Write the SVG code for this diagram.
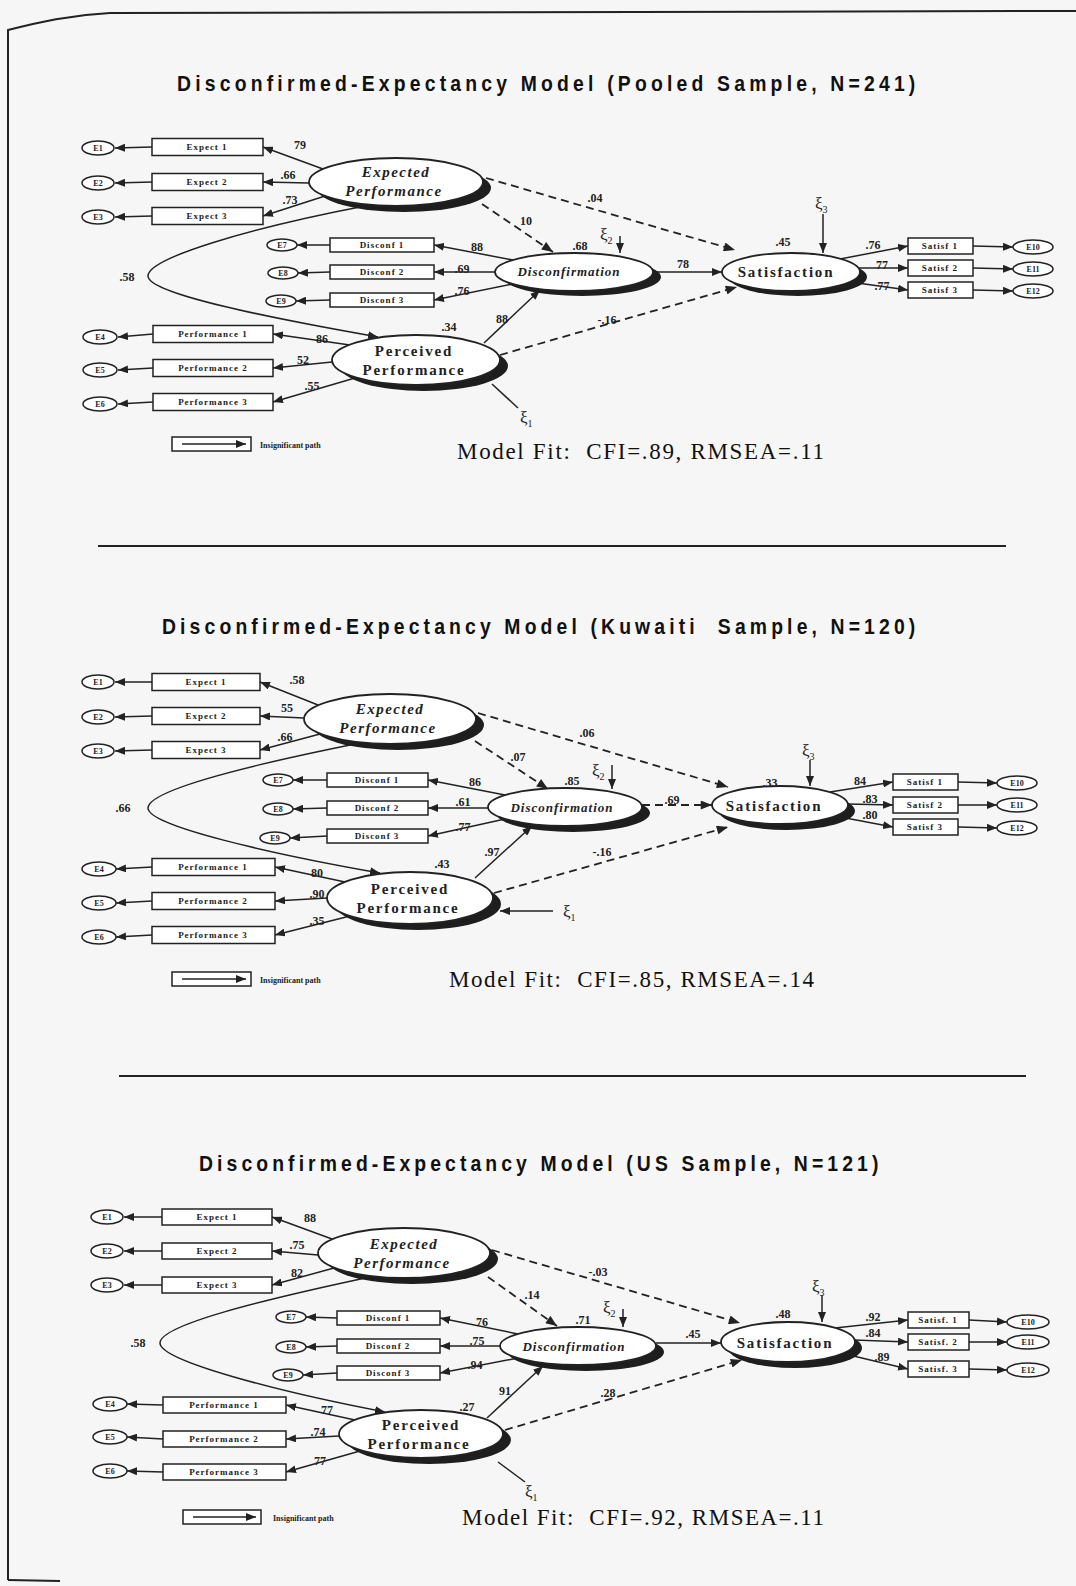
<svg xmlns="http://www.w3.org/2000/svg" width="1076" height="1586" viewBox="0 0 1076 1586">
<defs>
<marker id="ah" viewBox="0 0 10 8" refX="10" refY="4" markerWidth="10" markerHeight="8" markerUnits="userSpaceOnUse" orient="auto"><path d="M0,0 L10,4 L0,8 z" fill="#222"/></marker>
<marker id="ahs" viewBox="0 0 10 8" refX="10" refY="4" markerWidth="12" markerHeight="9" markerUnits="userSpaceOnUse" orient="auto"><path d="M0,0 L10,4 L0,8 z" fill="#222"/></marker>
</defs>
<style>
.ln{stroke:#222;stroke-width:1.5;fill:none;marker-end:url(#ah)}
.ds{stroke:#222;stroke-width:1.8;fill:none;stroke-dasharray:8 5;marker-end:url(#ahs)}
.pl{stroke:#222;stroke-width:1.5;fill:none}
.bx{fill:#fff;stroke:#222;stroke-width:1.5}
.er{fill:#fff;stroke:#222;stroke-width:1.5}
.lat{fill:#fff;stroke:#222;stroke-width:1.8}
.sh{fill:#1e1e1e}
.bt{font-family:"Liberation Serif",serif;font-weight:bold;font-size:9px;letter-spacing:1px;text-anchor:middle;fill:#222}
.et{font-family:"Liberation Serif",serif;font-weight:bold;font-size:8px;text-anchor:middle;fill:#222}
.li{font-family:"Liberation Serif",serif;font-weight:bold;font-style:italic;font-size:15px;letter-spacing:1.5px;text-anchor:middle;fill:#222}
.lb{font-family:"Liberation Serif",serif;font-weight:bold;font-size:15px;letter-spacing:1.8px;text-anchor:middle;fill:#222}
.ld{font-family:"Liberation Serif",serif;font-weight:bold;font-style:italic;font-size:13px;letter-spacing:1px;text-anchor:middle;fill:#222}
.cf{font-family:"Liberation Serif",serif;font-weight:bold;font-size:12px;text-anchor:middle;fill:#222}
.xi{font-family:"Liberation Serif",serif;font-size:17px;fill:#222}
.ti{font-family:"Liberation Sans",Arial,sans-serif;font-weight:bold;font-size:22px;fill:#111}
.mf{font-family:"Liberation Serif",serif;font-size:23px;fill:#111}
.lg{font-family:"Liberation Serif",serif;font-weight:bold;font-size:8px;fill:#222}
</style>
<rect x="0" y="0" width="1076" height="1586" fill="#f6f6f6"/>
<g id="frame" fill="none" stroke="#222" stroke-width="2">
<path d="M8,1580 L8,30 C40,22 70,15 110,13 L1076,11"/>
<path d="M8,1580 L60,1581"/>
<line x1="98" y1="546" x2="1006" y2="546"/>
<line x1="119" y1="1076" x2="1026" y2="1076"/>
</g>

<!-- ================= MODEL 1 ================= -->
<text class="ti" transform="translate(177,91) scale(0.88,1)" x="0" y="0" textLength="839" lengthAdjust="spacing">Disconfirmed-Expectancy Model (Pooled Sample, N=241)</text>
<g id="m1-connectors">
<line class="ln" x1="152" y1="147" x2="115" y2="148"/>
<line class="ln" x1="152" y1="182" x2="115" y2="183"/>
<line class="ln" x1="152" y1="216" x2="115" y2="217"/>
<line class="ln" x1="323" y1="169" x2="263" y2="147"/>
<line class="ln" x1="309" y1="183" x2="263" y2="182"/>
<line class="ln" x1="325" y1="196" x2="263" y2="216"/>
<path class="ln" d="M365,206 C250,228 148,258 148,276 C148,294 270,318 378,337"/>
<line class="ln" x1="330" y1="245" x2="297" y2="245"/>
<line class="ln" x1="330" y1="272" x2="298" y2="273"/>
<line class="ln" x1="330" y1="300" x2="296" y2="301"/>
<line class="ln" x1="513" y1="260" x2="434" y2="245"/>
<line class="ln" x1="495" y1="272" x2="434" y2="272"/>
<line class="ln" x1="513" y1="284" x2="434" y2="300"/>
<line class="ln" x1="153" y1="334" x2="118" y2="337"/>
<line class="ln" x1="153" y1="368" x2="118" y2="370"/>
<line class="ln" x1="153" y1="402" x2="118" y2="404"/>
<line class="ln" x1="350" y1="345" x2="273" y2="334"/>
<line class="ln" x1="332" y1="362" x2="273" y2="368"/>
<line class="ln" x1="355" y1="378" x2="273" y2="402"/>
<line class="ln" x1="484" y1="343" x2="540" y2="290"/>
<line class="ds" x1="500" y1="355" x2="737" y2="287"/>
<line class="ds" x1="482" y1="204" x2="553" y2="252"/>
<line class="ds" x1="486" y1="178" x2="735" y2="250"/>
<line class="ln" x1="653" y1="272" x2="722" y2="272"/>
<line class="ln" x1="620" y1="236" x2="620" y2="253"/>
<line class="ln" x1="823" y1="214" x2="823" y2="253"/>
<line class="ln" x1="840" y1="259" x2="908" y2="246"/>
<line class="ln" x1="858" y1="268" x2="908" y2="268"/>
<line class="ln" x1="850" y1="282" x2="908" y2="290"/>
<line class="ln" x1="973" y1="246" x2="1013" y2="247"/>
<line class="ln" x1="973" y1="268" x2="1013" y2="269"/>
<line class="ln" x1="973" y1="290" x2="1013" y2="291"/>
<line class="pl" x1="492" y1="384" x2="518" y2="408"/>
</g>
<g id="m1-E1"><ellipse class="er" cx="98" cy="148" rx="16" ry="7"/><text class="et" x="98" y="151">E1</text></g>
<g id="m1-E2"><ellipse class="er" cx="98" cy="183" rx="16" ry="7"/><text class="et" x="98" y="186">E2</text></g>
<g id="m1-E3"><ellipse class="er" cx="98" cy="217" rx="16" ry="7"/><text class="et" x="98" y="220">E3</text></g>
<g id="m1-X1"><rect class="bx" x="152" y="138.5" width="111" height="17"/><text class="bt" x="207" y="150">Expect 1</text></g>
<g id="m1-X2"><rect class="bx" x="152" y="173.5" width="111" height="17"/><text class="bt" x="207" y="185">Expect 2</text></g>
<g id="m1-X3"><rect class="bx" x="152" y="207.5" width="111" height="17"/><text class="bt" x="207" y="219">Expect 3</text></g>
<g id="m1-E7"><ellipse class="er" cx="282" cy="245" rx="15" ry="6"/><text class="et" x="282" y="248">E7</text></g>
<g id="m1-E8"><ellipse class="er" cx="283" cy="273" rx="15" ry="6"/><text class="et" x="283" y="276">E8</text></g>
<g id="m1-E9"><ellipse class="er" cx="281" cy="301" rx="15" ry="6"/><text class="et" x="281" y="304">E9</text></g>
<g id="m1-D1"><rect class="bx" x="330" y="238" width="104" height="14"/><text class="bt" x="382" y="248">Disconf 1</text></g>
<g id="m1-D2"><rect class="bx" x="330" y="265" width="104" height="14"/><text class="bt" x="382" y="275">Disconf 2</text></g>
<g id="m1-D3"><rect class="bx" x="330" y="293" width="104" height="14"/><text class="bt" x="382" y="303">Disconf 3</text></g>
<g id="m1-E4"><ellipse class="er" cx="100" cy="337" rx="17" ry="7"/><text class="et" x="100" y="340">E4</text></g>
<g id="m1-E5"><ellipse class="er" cx="100" cy="370" rx="17" ry="7"/><text class="et" x="100" y="373">E5</text></g>
<g id="m1-E6"><ellipse class="er" cx="100" cy="404" rx="17" ry="7"/><text class="et" x="100" y="407">E6</text></g>
<g id="m1-P1"><rect class="bx" x="153" y="325.5" width="120" height="17"/><text class="bt" x="213" y="337">Performance 1</text></g>
<g id="m1-P2"><rect class="bx" x="153" y="359.5" width="120" height="17"/><text class="bt" x="213" y="371">Performance 2</text></g>
<g id="m1-P3"><rect class="bx" x="153" y="393.5" width="120" height="17"/><text class="bt" x="213" y="405">Performance 3</text></g>
<g id="m1-EP"><ellipse class="sh" cx="404" cy="188" rx="87" ry="24"/><ellipse class="lat" cx="396" cy="182" rx="87" ry="24"/><text class="li" x="396" y="177">Expected</text><text class="li" x="394" y="196">Performance</text></g>
<g id="m1-PP"><ellipse class="sh" cx="424" cy="366" rx="84" ry="25"/><ellipse class="lat" cx="416" cy="360" rx="84" ry="25"/><text class="lb" x="414" y="356">Perceived</text><text class="lb" x="414" y="375">Performance</text></g>
<g id="m1-DC"><ellipse class="sh" cx="582" cy="277" rx="79" ry="19"/><ellipse class="lat" cx="574" cy="272" rx="79" ry="19"/><text class="ld" x="569" y="276">Disconfirmation</text></g>
<g id="m1-SA"><ellipse class="sh" cx="798" cy="277" rx="69" ry="19"/><ellipse class="lat" cx="791" cy="272" rx="69" ry="19"/><text class="lb" x="786" y="277">Satisfaction</text></g>
<g id="m1-S1"><rect class="bx" x="908" y="238" width="65" height="16"/><text class="bt" x="940" y="249">Satisf 1</text></g>
<g id="m1-S2"><rect class="bx" x="908" y="260" width="65" height="16"/><text class="bt" x="940" y="271">Satisf 2</text></g>
<g id="m1-S3"><rect class="bx" x="908" y="282" width="65" height="16"/><text class="bt" x="940" y="293">Satisf 3</text></g>
<g id="m1-E10"><ellipse class="er" cx="1033" cy="247" rx="20" ry="7"/><text class="et" x="1033" y="250">E10</text></g>
<g id="m1-E11"><ellipse class="er" cx="1033" cy="269" rx="20" ry="7"/><text class="et" x="1033" y="272">E11</text></g>
<g id="m1-E12"><ellipse class="er" cx="1033" cy="291" rx="20" ry="7"/><text class="et" x="1033" y="294">E12</text></g>
<g id="m1-labels">
<text class="cf" x="300" y="149">79</text>
<text class="cf" x="288" y="179">.66</text>
<text class="cf" x="290" y="204">.73</text>
<text class="cf" x="127" y="281">.58</text>
<text class="cf" x="477" y="251">88</text>
<text class="cf" x="462" y="273">.69</text>
<text class="cf" x="462" y="295">.76</text>
<text class="cf" x="322" y="343">86</text>
<text class="cf" x="303" y="364">52</text>
<text class="cf" x="312" y="390">.55</text>
<text class="cf" x="449" y="331">.34</text>
<text class="cf" x="502" y="323">88</text>
<text class="cf" x="607" y="324">-.16</text>
<text class="cf" x="526" y="225">10</text>
<text class="cf" x="595" y="202">.04</text>
<text class="cf" x="580" y="250">.68</text>
<text class="cf" x="683" y="268">78</text>
<text class="cf" x="783" y="246">.45</text>
<text class="cf" x="873" y="249">.76</text>
<text class="cf" x="882" y="269">77</text>
<text class="cf" x="882" y="290">.77</text>
<text class="xi" x="600" y="240">ξ<tspan font-size="10" dy="4">2</tspan></text>
<text class="xi" x="815" y="209">ξ<tspan font-size="10" dy="4">3</tspan></text>
<text class="xi" x="520" y="423">ξ<tspan font-size="10" dy="4">1</tspan></text>
</g>
<g id="m1-legend"><rect x="172" y="437" width="79" height="14" fill="#fff" stroke="#222" stroke-width="1.5"/><line class="ln" x1="182" y1="444" x2="246" y2="444"/><text class="lg" x="260" y="448">Insignificant path</text></g>
<text class="mf" x="457" y="459" textLength="367" lengthAdjust="spacing">Model Fit:&#160; CFI=.89, RMSEA=.11</text>

<!-- ================= MODEL 2 ================= -->
<text class="ti" transform="translate(162,634) scale(0.88,1)" x="0" y="0" textLength="856" lengthAdjust="spacing">Disconfirmed-Expectancy Model (Kuwaiti&#160; Sample, N=120)</text>
<g id="m2-connectors">
<line class="ln" x1="152" y1="682" x2="115" y2="682"/>
<line class="ln" x1="152" y1="716" x2="115" y2="717"/>
<line class="ln" x1="152" y1="750" x2="115" y2="751"/>
<line class="ln" x1="318" y1="705" x2="260" y2="682"/>
<line class="ln" x1="304" y1="718" x2="260" y2="716"/>
<line class="ln" x1="320" y1="734" x2="260" y2="750"/>
<path class="ln" d="M360,743 C250,765 148,790 148,808 C148,826 272,854 380,873"/>
<line class="ln" x1="327" y1="780" x2="293" y2="780"/>
<line class="ln" x1="327" y1="808" x2="293" y2="809"/>
<line class="ln" x1="327" y1="836" x2="290" y2="838"/>
<line class="ln" x1="505" y1="795" x2="428" y2="780"/>
<line class="ln" x1="488" y1="808" x2="428" y2="808"/>
<line class="ln" x1="505" y1="819" x2="428" y2="836"/>
<line class="ln" x1="152" y1="867" x2="116" y2="869"/>
<line class="ln" x1="152" y1="901" x2="116" y2="903"/>
<line class="ln" x1="152" y1="935" x2="116" y2="937"/>
<line class="ln" x1="345" y1="882" x2="275" y2="867"/>
<line class="ln" x1="327" y1="898" x2="275" y2="901"/>
<line class="ln" x1="350" y1="916" x2="275" y2="935"/>
<line class="ln" x1="475" y1="878" x2="532" y2="826"/>
<line class="ds" x1="494" y1="893" x2="728" y2="827"/>
<line class="ds" x1="475" y1="741" x2="548" y2="789"/>
<line class="ds" x1="478" y1="713" x2="728" y2="787"/>
<line class="ds" x1="642" y1="805" x2="712" y2="805"/>
<line class="ln" x1="612" y1="765" x2="612" y2="789"/>
<line class="ln" x1="810" y1="760" x2="810" y2="786"/>
<line class="ln" x1="830" y1="792" x2="893" y2="782"/>
<line class="ln" x1="847" y1="804" x2="893" y2="805"/>
<line class="ln" x1="835" y1="816" x2="893" y2="827"/>
<line class="ln" x1="958" y1="782" x2="997" y2="783"/>
<line class="ln" x1="958" y1="805" x2="997" y2="805"/>
<line class="ln" x1="958" y1="827" x2="997" y2="828"/>
<line class="ln" x1="553" y1="911" x2="500" y2="911"/>
</g>
<g id="m2-E1"><ellipse class="er" cx="98" cy="682" rx="16" ry="7"/><text class="et" x="98" y="685">E1</text></g>
<g id="m2-E2"><ellipse class="er" cx="98" cy="717" rx="16" ry="7"/><text class="et" x="98" y="720">E2</text></g>
<g id="m2-E3"><ellipse class="er" cx="98" cy="751" rx="16" ry="7"/><text class="et" x="98" y="754">E3</text></g>
<g id="m2-X1"><rect class="bx" x="152" y="673.5" width="108" height="17"/><text class="bt" x="206" y="685">Expect 1</text></g>
<g id="m2-X2"><rect class="bx" x="152" y="707.5" width="108" height="17"/><text class="bt" x="206" y="719">Expect 2</text></g>
<g id="m2-X3"><rect class="bx" x="152" y="741.5" width="108" height="17"/><text class="bt" x="206" y="753">Expect 3</text></g>
<g id="m2-E7"><ellipse class="er" cx="278" cy="780" rx="15" ry="6"/><text class="et" x="278" y="783">E7</text></g>
<g id="m2-E8"><ellipse class="er" cx="278" cy="809" rx="15" ry="6"/><text class="et" x="278" y="812">E8</text></g>
<g id="m2-E9"><ellipse class="er" cx="275" cy="838" rx="15" ry="6"/><text class="et" x="275" y="841">E9</text></g>
<g id="m2-D1"><rect class="bx" x="327" y="773" width="101" height="14"/><text class="bt" x="377" y="783">Disconf 1</text></g>
<g id="m2-D2"><rect class="bx" x="327" y="801" width="101" height="14"/><text class="bt" x="377" y="811">Disconf 2</text></g>
<g id="m2-D3"><rect class="bx" x="327" y="829" width="101" height="14"/><text class="bt" x="377" y="839">Disconf 3</text></g>
<g id="m2-E4"><ellipse class="er" cx="99" cy="869" rx="17" ry="7"/><text class="et" x="99" y="872">E4</text></g>
<g id="m2-E5"><ellipse class="er" cx="99" cy="903" rx="17" ry="7"/><text class="et" x="99" y="906">E5</text></g>
<g id="m2-E6"><ellipse class="er" cx="99" cy="937" rx="17" ry="7"/><text class="et" x="99" y="940">E6</text></g>
<g id="m2-P1"><rect class="bx" x="152" y="858.5" width="123" height="17"/><text class="bt" x="213" y="870">Performance 1</text></g>
<g id="m2-P2"><rect class="bx" x="152" y="892.5" width="123" height="17"/><text class="bt" x="213" y="904">Performance 2</text></g>
<g id="m2-P3"><rect class="bx" x="152" y="926.5" width="123" height="17"/><text class="bt" x="213" y="938">Performance 3</text></g>
<g id="m2-EP"><ellipse class="sh" cx="398" cy="725" rx="86" ry="25"/><ellipse class="lat" cx="390" cy="719" rx="86" ry="25"/><text class="li" x="390" y="714">Expected</text><text class="li" x="388" y="733">Performance</text></g>
<g id="m2-PP"><ellipse class="sh" cx="418" cy="904" rx="83" ry="26"/><ellipse class="lat" cx="410" cy="898" rx="83" ry="26"/><text class="lb" x="410" y="894">Perceived</text><text class="lb" x="408" y="913">Performance</text></g>
<g id="m2-DC"><ellipse class="sh" cx="573" cy="813" rx="77" ry="19"/><ellipse class="lat" cx="565" cy="807" rx="77" ry="19"/><text class="ld" x="562" y="812">Disconfirmation</text></g>
<g id="m2-SA"><ellipse class="sh" cx="787" cy="811" rx="68" ry="19"/><ellipse class="lat" cx="780" cy="805" rx="68" ry="19"/><text class="lb" x="774" y="811">Satisfaction</text></g>
<g id="m2-S1"><rect class="bx" x="893" y="774" width="65" height="16"/><text class="bt" x="925" y="785">Satisf 1</text></g>
<g id="m2-S2"><rect class="bx" x="893" y="797" width="65" height="16"/><text class="bt" x="925" y="808">Satisf 2</text></g>
<g id="m2-S3"><rect class="bx" x="893" y="819" width="65" height="16"/><text class="bt" x="925" y="830">Satisf 3</text></g>
<g id="m2-E10"><ellipse class="er" cx="1017" cy="783" rx="20" ry="7"/><text class="et" x="1017" y="786">E10</text></g>
<g id="m2-E11"><ellipse class="er" cx="1017" cy="805" rx="20" ry="7"/><text class="et" x="1017" y="808">E11</text></g>
<g id="m2-E12"><ellipse class="er" cx="1017" cy="828" rx="20" ry="7"/><text class="et" x="1017" y="831">E12</text></g>
<g id="m2-labels">
<text class="cf" x="297" y="684">.58</text>
<text class="cf" x="287" y="712">55</text>
<text class="cf" x="285" y="741">.66</text>
<text class="cf" x="123" y="812">.66</text>
<text class="cf" x="475" y="786">86</text>
<text class="cf" x="463" y="806">.61</text>
<text class="cf" x="463" y="831">.77</text>
<text class="cf" x="317" y="877">80</text>
<text class="cf" x="317" y="898">.90</text>
<text class="cf" x="317" y="925">.35</text>
<text class="cf" x="442" y="868">.43</text>
<text class="cf" x="492" y="856">.97</text>
<text class="cf" x="602" y="856">-.16</text>
<text class="cf" x="518" y="761">.07</text>
<text class="cf" x="587" y="737">.06</text>
<text class="cf" x="572" y="785">.85</text>
<text class="cf" x="672" y="804">.69</text>
<text class="cf" x="770" y="787">.33</text>
<text class="cf" x="860" y="785">84</text>
<text class="cf" x="870" y="803">.83</text>
<text class="cf" x="870" y="819">.80</text>
<text class="xi" x="592" y="776">ξ<tspan font-size="10" dy="4">2</tspan></text>
<text class="xi" x="802" y="756">ξ<tspan font-size="10" dy="4">3</tspan></text>
<text class="xi" x="563" y="917">ξ<tspan font-size="10" dy="4">1</tspan></text>
</g>
<g id="m2-legend"><rect x="172" y="972" width="79" height="14" fill="#fff" stroke="#222" stroke-width="1.5"/><line class="ln" x1="182" y1="979" x2="246" y2="979"/><text class="lg" x="260" y="983">Insignificant path</text></g>
<text class="mf" x="449" y="987" textLength="365" lengthAdjust="spacing">Model Fit:&#160; CFI=.85, RMSEA=.14</text>

<!-- ================= MODEL 3 ================= -->
<text class="ti" transform="translate(199,1171) scale(0.88,1)" x="0" y="0" textLength="772" lengthAdjust="spacing">Disconfirmed-Expectancy Model (US Sample, N=121)</text>
<g id="m3-connectors">
<line class="ln" x1="162" y1="1217" x2="124" y2="1217"/>
<line class="ln" x1="162" y1="1251" x2="124" y2="1251"/>
<line class="ln" x1="162" y1="1285" x2="124" y2="1285"/>
<line class="ln" x1="332" y1="1239" x2="272" y2="1217"/>
<line class="ln" x1="318" y1="1255" x2="272" y2="1251"/>
<line class="ln" x1="334" y1="1268" x2="272" y2="1285"/>
<path class="ln" d="M370,1277 C262,1300 160,1325 160,1343 C160,1361 280,1392 385,1412"/>
<line class="ln" x1="337" y1="1318" x2="306" y2="1317"/>
<line class="ln" x1="337" y1="1346" x2="306" y2="1347"/>
<line class="ln" x1="337" y1="1373" x2="303" y2="1375"/>
<line class="ln" x1="518" y1="1334" x2="440" y2="1318"/>
<line class="ln" x1="500" y1="1346" x2="440" y2="1346"/>
<line class="ln" x1="518" y1="1358" x2="440" y2="1373"/>
<line class="ln" x1="163" y1="1405" x2="127" y2="1404"/>
<line class="ln" x1="163" y1="1439" x2="127" y2="1437"/>
<line class="ln" x1="163" y1="1472" x2="127" y2="1471"/>
<line class="ln" x1="355" y1="1420" x2="286" y2="1405"/>
<line class="ln" x1="339" y1="1436" x2="286" y2="1439"/>
<line class="ln" x1="360" y1="1451" x2="286" y2="1472"/>
<line class="ln" x1="487" y1="1418" x2="543" y2="1366"/>
<line class="ds" x1="505" y1="1430" x2="742" y2="1360"/>
<line class="ds" x1="488" y1="1277" x2="557" y2="1326"/>
<line class="ds" x1="492" y1="1250" x2="740" y2="1323"/>
<line class="ln" x1="656" y1="1343" x2="721" y2="1343"/>
<line class="ln" x1="623" y1="1309" x2="623" y2="1327"/>
<line class="ln" x1="822" y1="1295" x2="822" y2="1322"/>
<line class="ln" x1="835" y1="1328" x2="908" y2="1320"/>
<line class="ln" x1="854" y1="1340" x2="908" y2="1342"/>
<line class="ln" x1="845" y1="1354" x2="908" y2="1369"/>
<line class="ln" x1="969" y1="1320" x2="1007" y2="1322"/>
<line class="ln" x1="969" y1="1342" x2="1007" y2="1342"/>
<line class="ln" x1="969" y1="1369" x2="1007" y2="1370"/>
<line class="pl" x1="498" y1="1462" x2="525" y2="1482"/>
</g>
<g id="m3-E1"><ellipse class="er" cx="107" cy="1217" rx="16" ry="7"/><text class="et" x="107" y="1220">E1</text></g>
<g id="m3-E2"><ellipse class="er" cx="107" cy="1251" rx="16" ry="7"/><text class="et" x="107" y="1254">E2</text></g>
<g id="m3-E3"><ellipse class="er" cx="107" cy="1285" rx="16" ry="7"/><text class="et" x="107" y="1288">E3</text></g>
<g id="m3-X1"><rect class="bx" x="162" y="1209" width="110" height="16"/><text class="bt" x="217" y="1220">Expect 1</text></g>
<g id="m3-X2"><rect class="bx" x="162" y="1243" width="110" height="16"/><text class="bt" x="217" y="1254">Expect 2</text></g>
<g id="m3-X3"><rect class="bx" x="162" y="1277" width="110" height="16"/><text class="bt" x="217" y="1288">Expect 3</text></g>
<g id="m3-E7"><ellipse class="er" cx="291" cy="1317" rx="15" ry="6"/><text class="et" x="291" y="1320">E7</text></g>
<g id="m3-E8"><ellipse class="er" cx="291" cy="1347" rx="15" ry="6"/><text class="et" x="291" y="1350">E8</text></g>
<g id="m3-E9"><ellipse class="er" cx="288" cy="1375" rx="15" ry="6"/><text class="et" x="288" y="1378">E9</text></g>
<g id="m3-D1"><rect class="bx" x="337" y="1311" width="103" height="14"/><text class="bt" x="388" y="1321">Disconf 1</text></g>
<g id="m3-D2"><rect class="bx" x="337" y="1339" width="103" height="14"/><text class="bt" x="388" y="1349">Disconf 2</text></g>
<g id="m3-D3"><rect class="bx" x="337" y="1366" width="103" height="14"/><text class="bt" x="388" y="1376">Disconf 3</text></g>
<g id="m3-E4"><ellipse class="er" cx="110" cy="1404" rx="17" ry="7"/><text class="et" x="110" y="1407">E4</text></g>
<g id="m3-E5"><ellipse class="er" cx="110" cy="1437" rx="17" ry="7"/><text class="et" x="110" y="1440">E5</text></g>
<g id="m3-E6"><ellipse class="er" cx="110" cy="1471" rx="17" ry="7"/><text class="et" x="110" y="1474">E6</text></g>
<g id="m3-P1"><rect class="bx" x="163" y="1397" width="123" height="16"/><text class="bt" x="224" y="1408">Performance 1</text></g>
<g id="m3-P2"><rect class="bx" x="163" y="1431" width="123" height="16"/><text class="bt" x="224" y="1442">Performance 2</text></g>
<g id="m3-P3"><rect class="bx" x="163" y="1464" width="123" height="16"/><text class="bt" x="224" y="1475">Performance 3</text></g>
<g id="m3-EP"><ellipse class="sh" cx="412" cy="1259" rx="86" ry="25"/><ellipse class="lat" cx="404" cy="1253" rx="86" ry="25"/><text class="li" x="404" y="1249">Expected</text><text class="li" x="402" y="1268">Performance</text></g>
<g id="m3-PP"><ellipse class="sh" cx="429" cy="1440" rx="82" ry="24"/><ellipse class="lat" cx="421" cy="1434" rx="82" ry="24"/><text class="lb" x="421" y="1430">Perceived</text><text class="lb" x="419" y="1449">Performance</text></g>
<g id="m3-DC"><ellipse class="sh" cx="586" cy="1352" rx="78" ry="19"/><ellipse class="lat" cx="578" cy="1346" rx="78" ry="19"/><text class="ld" x="574" y="1351">Disconfirmation</text></g>
<g id="m3-SA"><ellipse class="sh" cx="795" cy="1348" rx="67" ry="20"/><ellipse class="lat" cx="788" cy="1342" rx="67" ry="20"/><text class="lb" x="785" y="1348">Satisfaction</text></g>
<g id="m3-S1"><rect class="bx" x="908" y="1312" width="61" height="16"/><text class="bt" x="938" y="1323">Satisf. 1</text></g>
<g id="m3-S2"><rect class="bx" x="908" y="1334" width="61" height="16"/><text class="bt" x="938" y="1345">Satisf. 2</text></g>
<g id="m3-S3"><rect class="bx" x="908" y="1361" width="61" height="16"/><text class="bt" x="938" y="1372">Satisf. 3</text></g>
<g id="m3-E10"><ellipse class="er" cx="1028" cy="1322" rx="21" ry="7"/><text class="et" x="1028" y="1325">E10</text></g>
<g id="m3-E11"><ellipse class="er" cx="1028" cy="1342" rx="21" ry="7"/><text class="et" x="1028" y="1345">E11</text></g>
<g id="m3-E12"><ellipse class="er" cx="1028" cy="1370" rx="21" ry="7"/><text class="et" x="1028" y="1373">E12</text></g>
<g id="m3-labels">
<text class="cf" x="310" y="1222">88</text>
<text class="cf" x="297" y="1249">.75</text>
<text class="cf" x="297" y="1277">82</text>
<text class="cf" x="138" y="1347">.58</text>
<text class="cf" x="482" y="1326">76</text>
<text class="cf" x="477" y="1345">.75</text>
<text class="cf" x="475" y="1369">.94</text>
<text class="cf" x="327" y="1414">77</text>
<text class="cf" x="318" y="1436">.74</text>
<text class="cf" x="320" y="1465">77</text>
<text class="cf" x="467" y="1411">.27</text>
<text class="cf" x="505" y="1395">91</text>
<text class="cf" x="608" y="1397">.28</text>
<text class="cf" x="532" y="1299">.14</text>
<text class="cf" x="598" y="1276">-.03</text>
<text class="cf" x="583" y="1324">.71</text>
<text class="cf" x="693" y="1338">.45</text>
<text class="cf" x="783" y="1318">.48</text>
<text class="cf" x="873" y="1321">.92</text>
<text class="cf" x="873" y="1337">.84</text>
<text class="cf" x="882" y="1361">.89</text>
<text class="xi" x="603" y="1313">ξ<tspan font-size="10" dy="4">2</tspan></text>
<text class="xi" x="812" y="1292">ξ<tspan font-size="10" dy="4">3</tspan></text>
<text class="xi" x="525" y="1497">ξ<tspan font-size="10" dy="4">1</tspan></text>
</g>
<g id="m3-legend"><rect x="183" y="1510" width="78" height="14" fill="#fff" stroke="#222" stroke-width="1.5"/><line class="ln" x1="193" y1="1517" x2="256" y2="1517"/><text class="lg" x="273" y="1521">Insignificant path</text></g>
<text class="mf" x="462" y="1525" textLength="362" lengthAdjust="spacing">Model Fit:&#160; CFI=.92, RMSEA=.11</text>
</svg>
